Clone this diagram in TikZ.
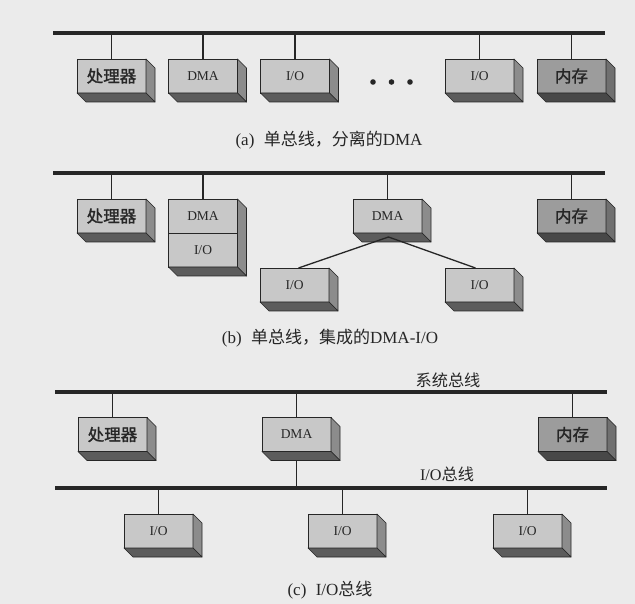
\documentclass[tikz,border=0pt]{standalone}
\usepackage{fontspec}
\setmainfont{Liberation Serif}
\newfontfamily\cjk{Noto Sans CJK SC}
\newfontfamily\cjkb[FakeBold=1.6]{Noto Sans CJK SC}
\definecolor{bg}{HTML}{EBEBEB}
\definecolor{gfront}{HTML}{C8C8C8}
\definecolor{gside}{HTML}{8C8C8C}
\definecolor{gbot}{HTML}{5C5C5C}
\definecolor{mfront}{HTML}{9C9C9C}
\definecolor{mside}{HTML}{707070}
\definecolor{mbot}{HTML}{484848}
\definecolor{ink}{HTML}{262626}
\tikzset{
  boxf/.style={draw=ink, line width=0.6pt, fill=gfront, minimum width=69pt, minimum height=34pt,
    inner sep=0pt, outer sep=0pt, text=ink, font=\fontsize{13.5}{14}\selectfont},
  memf/.style={boxf, fill=mfront},
  cn/.style={font=\cjkb\fontsize{16.5}{17}\selectfont},
  bus/.style={line width=3.6pt, draw=ink},
  drop/.style={line width=1.7pt, draw=ink},
  link/.style={line width=1.3pt, draw=ink},
  captxt/.style={text=ink, font=\fontsize{17}{17}\selectfont, inner sep=0pt},
  buslbl/.style={text=ink, font=\cjk\fontsize{16.2}{17}\selectfont, inner sep=0pt},
}
\newcommand\extr[3]{%
  \filldraw[fill=#3side, draw=ink, line width=0.6pt, line join=round]
    (#1.north east) -- ([shift={(9,9)}]#1.north east) -- ([shift={(9,9)}]#2.south east) -- (#2.south east) -- cycle;
  \filldraw[fill=#3bot, draw=ink, line width=0.6pt, line join=round]
    (#2.south west) -- (#2.south east) -- ([shift={(9,9)}]#2.south east) -- ([shift={(9,9)}]#2.south west) -- cycle;
}
\begin{document}
\begin{tikzpicture}[x=1pt,y=-1pt]
\useasboundingbox (0,0) rectangle (635,604);
\fill[bg] (0,0) rectangle (635,604);

% ---------- (a) ----------
\coordinate (busaL) at (53,33);
\coordinate (busaR) at (605,33);
\node[boxf,cn] (a1) at (111.5,76) {处理器};
\node[boxf] (a2) at (203,76) {DMA};
\node[boxf] (a3) at (295,76) {I/O};
\node[boxf] (a4) at (479.5,76) {I/O};
\node[memf,cn] (a5) at (571.5,76) {内存};
\foreach \n in {a1,a2,a3,a4,a5} \draw[drop] (\n.north) -- (\n.north |- busaL);
\extr{a1}{a1}{g}\extr{a2}{a2}{g}\extr{a3}{a3}{g}\extr{a4}{a4}{g}\extr{a5}{a5}{m}
\draw[bus] (busaL) -- (busaR);
\fill[ink] (373,82) circle (2.8) (391.5,82) circle (2.8) (410,82) circle (2.8);
\node[captxt] (capa) at (329,140) {(a)\hspace{0.55em}{\cjk 单总线，分离的}DMA};

% ---------- (b) ----------
\coordinate (busbL) at (53,173);
\coordinate (busbR) at (605,173);
\node[boxf,cn] (b1) at (111.5,216) {处理器};
\node[boxf] (b2) at (203,216) {DMA};
\node[boxf] (b2i) at (203,250) {I/O};
\node[boxf] (b3) at (387.5,216) {DMA};
\node[memf,cn] (b4) at (571.5,216) {内存};
\node[boxf] (b5) at (294.5,285) {I/O};
\node[boxf] (b6) at (479.5,285) {I/O};
\foreach \n in {b1,b2,b3,b4} \draw[drop] (\n.north) -- (\n.north |- busbL);
\extr{b1}{b1}{g}\extr{b2}{b2i}{g}\extr{b3}{b3}{g}\extr{b4}{b4}{m}\extr{b5}{b5}{g}\extr{b6}{b6}{g}
\coordinate (b3apex) at ([shift={(1,4)}]b3.south);
\draw[link] ([xshift=4]b5.north) -- (b3apex) -- ([xshift=-4]b6.north);
\draw[bus] (busbL) -- (busbR);
\node[captxt] (capb) at (330,338) {(b)\hspace{0.55em}{\cjk 单总线，集成的}DMA-I/O};

% ---------- (c) ----------
\coordinate (buscL) at (55,392);
\coordinate (buscR) at (607,392);
\coordinate (busiL) at (55,488);
\coordinate (busiR) at (607,488);
\node[boxf,cn] (c1) at (112.5,434.5) {处理器};
\node[boxf] (c2) at (296.5,434.5) {DMA};
\node[memf,cn] (c3) at (572.5,434.5) {内存};
\node[boxf] (c4) at (158.5,531) {I/O};
\node[boxf] (c5) at (342.5,531) {I/O};
\node[boxf] (c6) at (527.5,531) {I/O};
\foreach \n in {c1,c2,c3} \draw[drop] (\n.north) -- (\n.north |- buscL);
\draw[drop] (c2.south) -- (c2.south |- busiL);
\foreach \n in {c4,c5,c6} \draw[drop] (\n.north) -- (\n.north |- busiL);
\extr{c1}{c1}{g}\extr{c2}{c2}{g}\extr{c3}{c3}{m}\extr{c4}{c4}{g}\extr{c5}{c5}{g}\extr{c6}{c6}{g}
\draw[bus] (buscL) -- (buscR);
\draw[bus] (busiL) -- (busiR);
\node[buslbl] (lsys) at (448,380) {系统总线};
\node[buslbl] (lio) at (447,474) {\fontspec{Liberation Serif}I/O\cjk 总线};
\node[captxt] (capc) at (330,590) {(c)\hspace{0.55em}I/O{\cjk 总线}};
\end{tikzpicture}
\end{document}
